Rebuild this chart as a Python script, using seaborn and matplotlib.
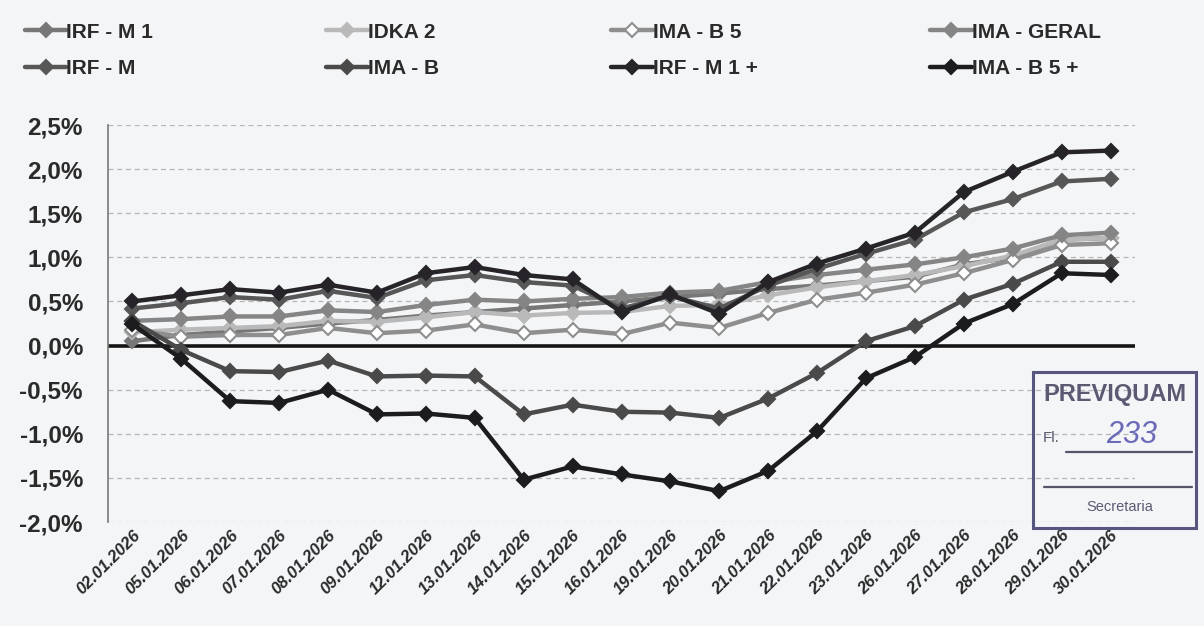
# Cumulative index returns, January 2026
import pandas as pd
import seaborn as sns
import matplotlib.pyplot as plt
from matplotlib.patches import Rectangle
from matplotlib.ticker import FuncFormatter

dates = ['02.01.2026', '05.01.2026', '06.01.2026', '07.01.2026', '08.01.2026',
         '09.01.2026', '12.01.2026', '13.01.2026', '14.01.2026', '15.01.2026',
         '16.01.2026', '19.01.2026', '20.01.2026', '21.01.2026', '22.01.2026',
         '23.01.2026', '26.01.2026', '27.01.2026', '28.01.2026', '29.01.2026',
         '30.01.2026']

irfm1 = [0.05, 0.12, 0.16, 0.20, 0.25, 0.29, 0.34, 0.38, 0.42, 0.46, 0.50,
         0.55, 0.59, 0.64, 0.68, 0.73, 0.78, 0.92, 1.00, 1.20, 1.22]
idka2 = [0.15, 0.18, 0.20, 0.22, 0.28, 0.27, 0.32, 0.38, 0.34, 0.37, 0.38,
         0.45, 0.46, 0.57, 0.66, 0.73, 0.80, 0.90, 1.02, 1.20, 1.22]
imab5 = [0.18, 0.10, 0.12, 0.12, 0.20, 0.14, 0.17, 0.24, 0.14, 0.18, 0.13,
         0.26, 0.20, 0.37, 0.52, 0.60, 0.69, 0.82, 0.97, 1.14, 1.16]
ima_geral = [0.28, 0.30, 0.33, 0.33, 0.40, 0.38, 0.46, 0.52, 0.50, 0.53, 0.55,
             0.60, 0.62, 0.72, 0.80, 0.86, 0.92, 1.00, 1.10, 1.25, 1.28]
irfm = [0.42, 0.48, 0.55, 0.52, 0.62, 0.54, 0.74, 0.80, 0.72, 0.68, 0.42,
        0.56, 0.42, 0.68, 0.87, 1.04, 1.20, 1.51, 1.66, 1.86, 1.89]
imab = [0.28, -0.05, -0.29, -0.30, -0.17, -0.35, -0.34, -0.35, -0.78, -0.67, -0.75,
        -0.76, -0.82, -0.60, -0.31, 0.05, 0.22, 0.52, 0.70, 0.95, 0.95]
irfm1_plus = [0.50, 0.57, 0.64, 0.60, 0.69, 0.60, 0.82, 0.89, 0.80, 0.75, 0.38,
              0.58, 0.36, 0.72, 0.93, 1.10, 1.28, 1.74, 1.97, 2.19, 2.21]
imab5_plus = [0.24, -0.15, -0.63, -0.65, -0.50, -0.78, -0.77, -0.82, -1.52, -1.37, -1.46,
              -1.54, -1.65, -1.42, -0.97, -0.37, -0.13, 0.25, 0.47, 0.82, 0.80]

# name, values, line colour, marker face
series = [
    ('IRF - M 1', irfm1, '#777777', '#777777'),
    ('IDKA 2', idka2, '#b9b9b9', '#b9b9b9'),
    ('IMA - B 5', imab5, '#8e8e8e', 'white'),
    ('IMA - GERAL', ima_geral, '#858585', '#858585'),
    ('IRF - M', irfm, '#575757', '#575757'),
    ('IMA - B', imab, '#4a4a4a', '#4a4a4a'),
    ('IRF - M 1 +', irfm1_plus, '#262428', '#262428'),
    ('IMA - B 5 +', imab5_plus, '#1c1c1e', '#1c1c1e'),
]

sns.set_style('white')
plt.rcParams['font.family'] = ['Liberation Sans', 'DejaVu Sans']

bg = '#f3f5f7'
fig = plt.figure(figsize=(12.04, 6.26), dpi=100, facecolor=bg)
ax = fig.add_axes([0.0897, 0.1661, 0.853, 0.6342], facecolor=bg)

for name, vals, col, face in series:
    df = pd.DataFrame({'Data': dates, 'Retorno': vals})
    sns.lineplot(x='Data', y='Retorno', data=df, ax=ax, sort=False, color=col,
                 lw=3.2, marker='D', markersize=7, markerfacecolor=face,
                 markeredgecolor=col, markeredgewidth=1.5, label=name)

ax.axhline(0, color='#151515', lw=2.6, zorder=1)
ax.set_ylim(-2.0, 2.5)
ax.set_xlim(-0.5, len(dates) - 0.5)
ax.set_yticks([2.5, 2.0, 1.5, 1.0, 0.5, 0.0, -0.5, -1.0, -1.5, -2.0])
ax.yaxis.set_major_formatter(FuncFormatter(lambda v, p: f'{v:.1f}%'.replace('.', ',')))
ax.yaxis.grid(True, linestyle=(0, (4, 3)), color='#b4b6ba', lw=0.9)
ax.set_axisbelow(True)
for s in ['top', 'right', 'bottom']:
    ax.spines[s].set_visible(False)
ax.spines['left'].set_color('#777777')
ax.spines['left'].set_linewidth(1.2)
ax.set_xlabel('')
ax.set_ylabel('')
ax.tick_params(axis='y', labelsize=17.5, colors='#2a2a2a', length=0, pad=18)
ax.tick_params(axis='x', length=0, pad=4)
ax.set_xticks(range(len(dates)))
ax.set_xticklabels(dates, rotation=45, ha='right', rotation_mode='anchor',
                   fontsize=12, fontweight='bold', fontstyle='italic', color='#2a2a2a')
for lbl in ax.get_yticklabels():
    lbl.set_fontweight('bold')

# legend: two rows, four columns
handles, labels = ax.get_legend_handles_labels()
ax.get_legend().remove()
order = [0, 4, 1, 5, 2, 6, 3, 7]
fig.legend([handles[i] for i in order], [labels[i] for i in order],
           loc='lower left', bbox_to_anchor=(0.005, 0.845, 0.925, 0.12),
           mode='expand', ncol=4, frameon=False, handlelength=2.0,
           handletextpad=0.0, labelspacing=0.85,
           prop={'size': 15, 'weight': 'bold'}, labelcolor='#2a2a2a')

# stamp
fig.patches.append(Rectangle((0.858, 0.157), 0.135, 0.248, transform=fig.transFigure,
                             fill=False, edgecolor='#56567e', lw=2.2))
fig.text(0.926, 0.37, 'PREVIQUAM', ha='center', va='center', fontsize=17,
         fontweight='bold', color='#5a5a72')
fig.text(0.866, 0.3, 'Fl.', ha='left', va='center', fontsize=11, color='#5a5a72')
fig.text(0.94, 0.305, '233', ha='center', va='center', fontsize=22,
         color='#6a6ab8', fontstyle='italic')
fig.add_artist(plt.Line2D([0.885, 0.99], [0.278, 0.278], transform=fig.transFigure,
                          color='#55556a', lw=1.6))
fig.add_artist(plt.Line2D([0.867, 0.99], [0.222, 0.222], transform=fig.transFigure,
                          color='#55556a', lw=1.6))
fig.text(0.93, 0.19, 'Secretaria', ha='center', va='center', fontsize=10.5,
         color='#5a5a72')

fig.savefig('out.png', dpi=100, facecolor=bg)
